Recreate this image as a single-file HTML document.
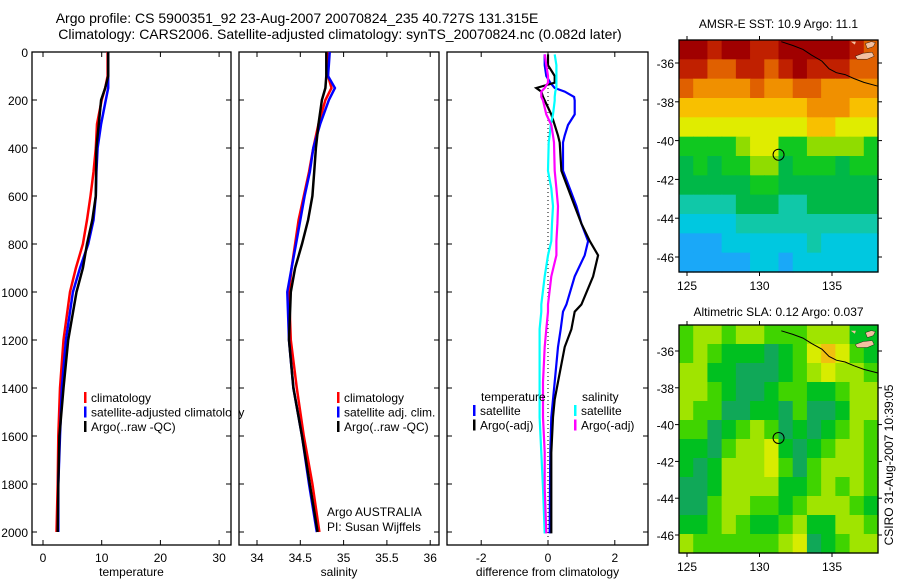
<!DOCTYPE html>
<html><head><meta charset="utf-8"><style>
html,body{margin:0;padding:0;background:#fff}
svg{display:block;font-family:"Liberation Sans",sans-serif}
</style></head><body>
<svg id="fig" width="900" height="580" viewBox="0 0 900 580">
<text x="297" y="23" font-size="14" text-anchor="middle">Argo profile: CS 5900351_92 23-Aug-2007 20070824_235 40.727S 131.315E</text>
<text x="340" y="39" font-size="14" text-anchor="middle">Climatology: CARS2006. Satellite-adjusted climatology: synTS_20070824.nc (0.082d later)</text>
<g id="g"></g>
</svg>
<script>
// ---------- data ----------
const depths = [0,50,100,150,200,300,400,500,600,700,800,900,1000,1200,1400,1600,1800,2000];
const tempClim = [11.0,11.0,11.0,10.6,10.0,9.2,9.0,8.6,8.1,7.5,6.8,5.6,4.6,3.5,2.9,2.6,2.5,2.3];
const tempSat  = [11.1,11.1,11.1,11.1,10.7,9.9,9.3,9.1,9.0,8.6,7.7,6.3,5.1,3.9,3.2,2.9,2.6,2.6];
const tempArgo = [11.1,11.1,11.1,10.6,9.9,9.5,9.1,9.05,9.0,8.4,7.5,6.8,5.7,4.3,3.5,2.8,2.6,2.5];
const salClim = [34.82,34.82,34.82,34.86,34.79,34.71,34.65,34.60,34.54,34.48,34.44,34.40,34.37,34.39,34.46,34.54,34.64,34.72];
const salSat  = [34.84,34.83,34.82,34.90,34.83,34.73,34.65,34.61,34.55,34.50,34.45,34.40,34.35,34.37,34.42,34.52,34.60,34.69];
const salArgo = [34.80,34.80,34.80,34.79,34.75,34.71,34.68,34.66,34.64,34.59,34.52,34.44,34.39,34.37,34.42,34.52,34.61,34.70];
const diffDepths = [10,55,100,128,150,165,187,202,260,304,348,377,495,568,642,715,788,847,935,1052,1082,1155,1229,1375,1448,1522,1669,1816,2006];
const dTempSat  = [-0.1,-0.1,-0.05,0.07,0.2,0.5,0.78,0.8,0.8,0.6,0.5,0.45,0.45,0.65,0.85,1.0,1.2,1.1,0.8,0.55,0.45,0.38,0.3,0.2,0.15,0.1,0.07,0.06,0.05];
const dTempArgo = [0.0,0.0,0.2,0.2,-0.35,-0.2,-0.15,-0.1,0.1,0.2,0.3,0.35,0.4,0.6,0.8,1.0,1.25,1.5,1.35,1.0,0.8,0.7,0.5,0.3,0.2,0.15,0.1,0.1,0.1];
const dSalSat   = [0.2,0.25,0.25,0.25,0.25,0.22,0.2,0.2,0.15,0.08,0.05,0.02,0.0,0.1,0.15,0.12,0.1,0.0,-0.1,-0.2,-0.2,-0.25,-0.25,-0.25,-0.25,-0.25,-0.2,-0.15,-0.1];
const dSalArgo  = [-0.1,-0.05,0.0,0.0,-0.1,-0.2,-0.2,-0.15,-0.05,0.1,0.15,0.18,0.2,0.25,0.3,0.28,0.25,0.25,0.1,0.0,0.0,-0.05,-0.1,-0.15,-0.15,-0.15,-0.1,-0.1,-0.05];
const depthTicks = [0,200,400,600,800,1000,1200,1400,1600,1800,2000];
const tempTicks = [0,10,20,30];
const salTicks = [34,34.5,35,35.5,36];
const diffTicks = [-2,0,2];
const lonTicks = [125,130,135];
const latTicks = [-36,-38,-40,-42,-44,-46];
const sstGrid = [
[11,11,10,11,11,10,10,11,11,11,11,11,10,9],
[10,10,9,9,10,10,9,10,11,10,10,10,9,9],
[9,8,8,8,8,9,8,8,9,9,8,8,8,8],
[7,7,7,7,7,7,7,7,7,8,8,8,7,7],
[6,6,6,6,6,6,6,6,6,7,7,6,6,6],
[4,4,4,4,5,6,6,4,4,5,5,5,5,4],
[3,4,3,4,4,5,5,3,4,4,4,3,4,4],
[3,3,3,3,3,4,4,3,3,3,3,3,3,3],
[2,2,2,2,3,3,3,2,2,3,3,3,3,3],
[1,1,1,1,2,2,2,2,2,2,2,2,2,2],
[0,0,0,1,1,1,1,1,1,2,1,1,1,1],
[0,0,0,0,0,1,1,0,1,1,1,1,1,1]];
const slaGrid = [
[2,3,3,2,3,3,2,2,2,3,3,3,1,1],
[2,3,2,1,1,1,0,1,2,4,5,4,2,1],
[3,3,1,1,0,0,0,1,2,3,4,3,3,2],
[3,3,2,1,0,0,1,2,2,1,1,2,3,3],
[3,2,2,0,0,1,1,0,2,0,0,1,3,3],
[2,2,0,1,2,3,2,0,1,0,1,2,3,2],
[1,1,0,2,3,3,4,1,0,1,2,3,3,2],
[1,0,1,3,3,3,4,2,0,2,3,3,3,2],
[0,0,1,3,3,3,3,1,1,2,3,2,3,2],
[0,0,2,3,3,2,2,1,2,3,3,3,2,1],
[1,1,2,3,2,1,1,2,3,1,1,3,3,2],
[3,2,2,2,2,2,2,3,4,0,1,2,3,3]];
const coastLon = [131.5,132.3,133.0,133.6,134.3,134.8,135.3,135.9,136.5,137.2,138.2];
const coastLat = [-34.9,-35.1,-35.3,-35.6,-35.9,-36.3,-36.5,-36.6,-36.8,-37.0,-37.2];
const profLon = 131.315, profLat = -40.727;

const sstColors=['#1aa8f8','#00c8e0','#10c8a8','#00b848','#10c820','#90dc00','#e0ec00','#f8c000','#f09000','#e06000','#c02000','#a00000'];
const slaColors=['#10a858','#00c020','#40d400','#a0e400','#d8ec00','#f0c010'];

// ---------- helpers ----------
const NS='http://www.w3.org/2000/svg';
const G=document.getElementById('g');
function mk(tag,attrs,parent){const e=document.createElementNS(NS,tag);for(const k in attrs)e.setAttribute(k,attrs[k]);(parent||G).appendChild(e);return e;}
function txt(x,y,s,size,anchor,parent){const e=mk('text',{x:x,y:y,'font-size':size,'text-anchor':anchor||'middle'},parent);e.textContent=s;return e;}

const yTop=52, yScale=0.24, boxBottom=545;
function yDepth(d){return yTop+d*yScale;}

function panel(name,x0,x1,xf,ticks,label,labelDepths){
  const g=mk('g',{});
  
  
  const r=mk('rect',{x:x0,y:yTop,width:x1-x0,height:boxBottom-yTop,fill:'none',stroke:'#000','stroke-width':1.3},g);
  
  
  depthTicks.forEach(d=>{const y=yDepth(d);
    mk('line',{x1:x0,y1:y,x2:x0+5,y2:y,stroke:'#000'},g);
    mk('line',{x1:x1,y1:y,x2:x1-5,y2:y,stroke:'#000'},g);
    if(labelDepths){const t=txt(x0-4,y+5,String(d),12,'end',g);
      
      }
  });
  ticks.forEach(v=>{const x=xf(v);
    mk('line',{x1:x,y1:boxBottom,x2:x,y2:boxBottom-5,stroke:'#000'},g);
    mk('line',{x1:x,y1:yTop,x2:x,y2:yTop+5,stroke:'#000'},g);
    const t=txt(x,boxBottom+17,String(v),12,'middle',g);
    
    
  });
  const t=txt((x0+x1)/2,boxBottom+31,label,12,'middle',g);
  
  
  return g;
}
function series(name,g,xs,ds,xf,color,w){
  const pts=xs.map((v,i)=>xf(v).toFixed(1)+','+yDepth(ds[i]).toFixed(1)).join(' ');
  const p=mk('polyline',{points:pts,fill:'none',stroke:color,'stroke-width':w||2.5},g);
  
  
}
function legend(g,x,y,items){
  items.forEach((it,i)=>{const yy=y+i*14.5;
    mk('rect',{x:x,y:yy-10,width:2.5,height:11,fill:it[1]},g);
    const t=txt(x+7,yy,it[0],12,'start',g);
    
    
  });
}

// temperature panel
const xT=v=>43+v*5.87;
const gT=panel('temperature-panel',32,231,xT,tempTicks,'temperature',true);
series('temp-climatology-line',gT,tempClim,depths,xT,'#ff0000');
series('temp-satellite-line',gT,tempSat,depths,xT,'#0000ff');
series('temp-argo-line',gT,tempArgo,depths,xT,'#000000');
legend(gT,84,402,[['climatology','#f00'],['satellite-adjusted climatology','#00f'],['Argo(..raw -QC)','#000']]);
mk('rect',{x:231.7,y:380,width:6.6,height:60,fill:'#fff'});

// salinity panel
const xS=v=>257+(v-34)*86.6;
const gS=panel('salinity-panel',239,439,xS,salTicks,'salinity',false);
series('sal-climatology-line',gS,salClim,depths,xS,'#ff0000');
series('sal-satellite-line',gS,salSat,depths,xS,'#0000ff');
series('sal-argo-line',gS,salArgo,depths,xS,'#000000');
legend(gS,337,402,[['climatology','#f00'],['satellite adj. clim.','#00f'],['Argo(..raw -QC)','#000']]);
let t1=txt(327,516,'Argo AUSTRALIA',12,'start',gS);


let t2=txt(327,531,'PI: Susan Wijffels',12,'start',gS);



// difference panel
const xD=v=>548+v*33.4;
const gD=panel('difference-panel',447,648,xD,diffTicks,'difference from climatology',false);
mk('line',{x1:xD(0),y1:yTop,x2:xD(0),y2:boxBottom,stroke:'#000','stroke-dasharray':'1,3'},gD);
series('diff-temp-satellite-line',gD,dTempSat,diffDepths,xD,'#0000ff',2.2);
series('diff-temp-argo-line',gD,dTempArgo,diffDepths,xD,'#000000',2.2);
series('diff-sal-satellite-line',gD,dSalSat,diffDepths,xD,'#00ffff',2.2);
series('diff-sal-argo-line',gD,dSalArgo,diffDepths,xD,'#ff00ff',2.2);
let lt=txt(481,401,'temperature',12,'start',gD);


let ls=txt(582,401,'salinity',12,'start',gD);


legend(gD,473,415,[['satellite','#00f'],['Argo(-adj)','#000']]);
legend(gD,574,415,[['satellite','#0ff'],['Argo(-adj)','#f0f']]);

// maps
function map(name,title,grid,colors,top,bottom,latAt36,pxPerLat,titleY){
  const x0=679,x1=878,lonAt125=687,pxPerLon=14.5;
  const X=lon=>lonAt125+(lon-125)*pxPerLon;
  const Y=lat=>latAt36+(-36-lat)*pxPerLat;
  const g=mk('g',{});
  
  
  const rows=grid.length, cols=grid[0].length;
  const cw=(x1-x0)/cols, ch=(bottom-top)/rows;
  grid.forEach((row,r)=>row.forEach((v,c)=>{
    const cell=mk('rect',{x:(x0+c*cw).toFixed(2),y:(top+r*ch).toFixed(2),width:(cw+0.6).toFixed(2),height:(ch+0.6).toFixed(2),fill:colors[v]},g);
    
    
  }));
  // islands
  mk('path',{d:`M${X(136.6)},${Y(-35.65)} l8,-3 l9,-1 l2,4 l-7,3 l-10,0 z`,fill:'#f4c0a0',stroke:'#000','stroke-width':0.4},g);
  mk('path',{d:`M${X(137.3)},${Y(-35.0)} l6,-2 l4,1 l-2,4 l-6,2 z`,fill:'#f4c0a0',stroke:'#000','stroke-width':0.4},g);
  mk('path',{d:`M${X(136.3)},${Y(-34.9)} l5,0 l-1,3 z`,fill:'#f4c0a0'},g);
  const cpts=coastLon.map((lo,i)=>X(lo).toFixed(1)+','+Y(coastLat[i]).toFixed(1)).join(' ');
  const cl=mk('polyline',{points:cpts,fill:'none',stroke:'#000','stroke-width':1},g);
  
  
  const m=mk('circle',{cx:X(profLon),cy:Y(profLat),r:5.5,fill:'none',stroke:'#000','stroke-width':1},g);
  
  
  mk('rect',{x:x0,y:top,width:x1-x0,height:bottom-top,fill:'none',stroke:'#000','stroke-width':1.3},g);
  lonTicks.forEach(lo=>{const x=X(lo);
    mk('line',{x1:x,y1:bottom,x2:x,y2:bottom+4,stroke:'#000'},g);
    mk('line',{x1:x,y1:top,x2:x,y2:top-4,stroke:'#000'},g);
    const t=txt(x,bottom+18,String(lo),12,'middle',g);
    
    });
  latTicks.forEach(la=>{const y=Y(la);
    mk('line',{x1:x0,y1:y,x2:x0-4,y2:y,stroke:'#000'},g);
    mk('line',{x1:x1,y1:y,x2:x1+4,y2:y,stroke:'#000'},g);
    const t=txt(x0-5,y+5,String(la),12,'end',g);
    
    });
  const tt=txt((x0+x1)/2,titleY,title,12,'middle',g);
  
  
}
map('sst-map','AMSR-E SST: 10.9 Argo: 11.1',sstGrid,sstColors,40,272,63,19.4,28);
map('sla-map','Altimetric SLA: 0.12 Argo: 0.037',slaGrid,slaColors,325,553,351,18.4,316);

const cs=txt(0,0,'CSIRO 31-Aug-2007 10:39:05',12,'middle');
cs.setAttribute('transform','translate(893,465) rotate(-90)');


</script>
</body></html>
